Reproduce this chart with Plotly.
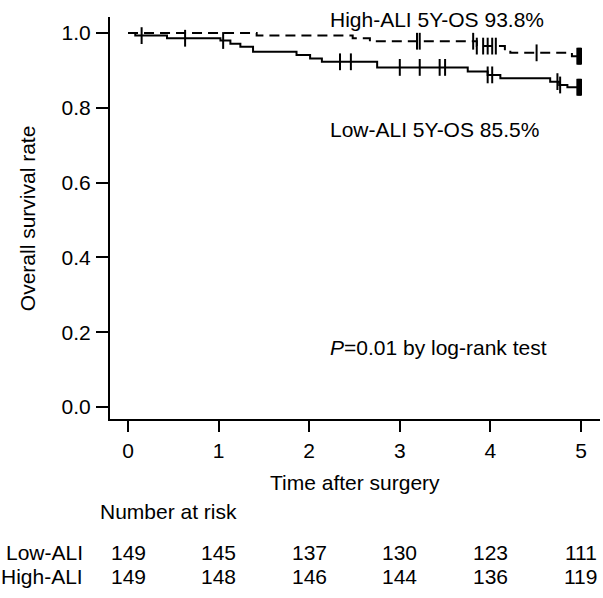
import numpy as np
import plotly.graph_objects as go

# ---- data ----
low_times = [0, 0.08, 0.43, 1.02, 1.13, 1.24, 1.38, 1.86, 2.01, 2.14, 2.75, 3.75, 3.97, 4.11, 4.66, 4.76, 4.85, 5.0]
low_surv = [1.0, 0.993, 0.986, 0.980, 0.971, 0.963, 0.950, 0.941, 0.932, 0.923, 0.908, 0.897, 0.888, 0.879, 0.870, 0.861, 0.855, 0.855]
low_censor = [0.15, 0.63, 1.05, 2.34, 2.46, 3.0, 3.22, 3.44, 3.5, 3.97, 4.02, 4.74, 4.77, 4.96, 4.97, 4.98, 4.99, 5.0]

high_times = [0, 1.42, 2.48, 2.67, 3.85, 4.16, 4.22, 4.90, 5.0]
high_surv = [1.0, 0.993, 0.986, 0.978, 0.965, 0.953, 0.947, 0.938, 0.938]
high_censor = [3.19, 3.22, 3.81, 3.85, 3.92, 3.97, 4.02, 4.06, 4.51, 4.96, 4.97, 4.98, 4.99, 5.0]

risk_times = [0, 1, 2, 3, 4, 5]
risk_low = [149, 145, 137, 130, 123, 111]
risk_high = [149, 148, 146, 144, 136, 119]

x_ticks = [0, 1, 2, 3, 4, 5]
y_ticks = [0.0, 0.2, 0.4, 0.6, 0.8, 1.0]

FONT = "Liberation Sans, Arial, Helvetica, sans-serif"
FS = 21


def surv_at(times, surv, pts):
    idx = np.searchsorted(np.array(times), np.array(pts), side="right") - 1
    return [surv[i] for i in idx]


fig = go.Figure()
fig.add_trace(go.Scatter(x=high_times, y=high_surv, mode="lines", line_shape="hv",
                         line=dict(color="black", width=2, dash="10px,6px"),
                         showlegend=False, hoverinfo="skip"))
fig.add_trace(go.Scatter(x=low_times, y=low_surv, mode="lines", line_shape="hv",
                         line=dict(color="black", width=2),
                         showlegend=False, hoverinfo="skip"))
fig.add_trace(go.Scatter(x=high_censor, y=surv_at(high_times, high_surv, high_censor), mode="markers",
                         marker=dict(symbol="line-ns", size=12, line=dict(width=2, color="black")),
                         showlegend=False, hoverinfo="skip"))
fig.add_trace(go.Scatter(x=low_censor, y=surv_at(low_times, low_surv, low_censor), mode="markers",
                         marker=dict(symbol="line-ns", size=12, line=dict(width=2, color="black")),
                         showlegend=False, hoverinfo="skip"))

annotations = []
# axis titles
annotations.append(dict(text="Time after surgery", xref="paper", yref="paper", x=0.5, y=-0.157,
                        xanchor="center", yanchor="middle", showarrow=False))
annotations.append(dict(text="Overall survival rate", xref="paper", yref="paper", x=-0.169, y=0.5,
                        xanchor="center", yanchor="middle", textangle=-90, showarrow=False))
# curve labels
annotations.append(dict(text="High-ALI 5Y-OS 93.8%", xref="paper", yref="paper", x=0.445, y=0.995,
                        xanchor="left", yanchor="middle", showarrow=False))
annotations.append(dict(text="Low-ALI 5Y-OS 85.5%", xref="paper", yref="paper", x=0.445, y=0.719,
                        xanchor="left", yanchor="middle", showarrow=False))
annotations.append(dict(text="<i>P</i>=0.01 by log-rank test", xref="paper", yref="paper", x=0.445, y=0.177,
                        xanchor="left", yanchor="middle", showarrow=False))
# risk table
annotations.append(dict(text="Number at risk", xref="paper", yref="paper", x=-0.0245, y=-0.229,
                        xanchor="left", yanchor="middle", showarrow=False))
annotations.append(dict(text="Low-ALI", xref="paper", yref="paper", x=-0.052, y=-0.333,
                        xanchor="right", yanchor="middle", showarrow=False))
annotations.append(dict(text="High-ALI", xref="paper", yref="paper", x=-0.052, y=-0.393,
                        xanchor="right", yanchor="middle", showarrow=False))
for t, a, b in zip(risk_times, risk_low, risk_high):
    annotations.append(dict(text=str(a), xref="x", yref="paper", x=t, y=-0.333,
                            xanchor="center", yanchor="middle", showarrow=False))
    annotations.append(dict(text=str(b), xref="x", yref="paper", x=t, y=-0.393,
                            xanchor="center", yanchor="middle", showarrow=False))

fig.update_layout(
    width=603, height=598,
    margin=dict(l=110, r=3, t=17, b=179),
    paper_bgcolor="white", plot_bgcolor="white",
    font=dict(family=FONT, size=FS, color="black"),
    annotations=annotations,
    xaxis=dict(range=[-0.199, 5.21], tickvals=x_ticks, ticktext=[str(v) for v in x_ticks],
               showgrid=False, zeroline=False, showline=True, linecolor="black", linewidth=2,
               ticks="outside", ticklen=11, tickwidth=1.5, tickcolor="black",
               ticklabelstandoff=1, fixedrange=True),
    yaxis=dict(range=[-0.0321, 1.0428], tickvals=y_ticks, ticktext=[f"{v:.1f}" for v in y_ticks],
               showgrid=False, zeroline=False, showline=True, linecolor="black", linewidth=2,
               ticks="outside", ticklen=12, tickwidth=1.5, tickcolor="black",
               ticklabelstandoff=1, fixedrange=True),
)

fig.write_html("out.html", config={"displayModeBar": False},
               post_script="document.body.style.margin='0px';document.body.style.overflow='hidden';")
